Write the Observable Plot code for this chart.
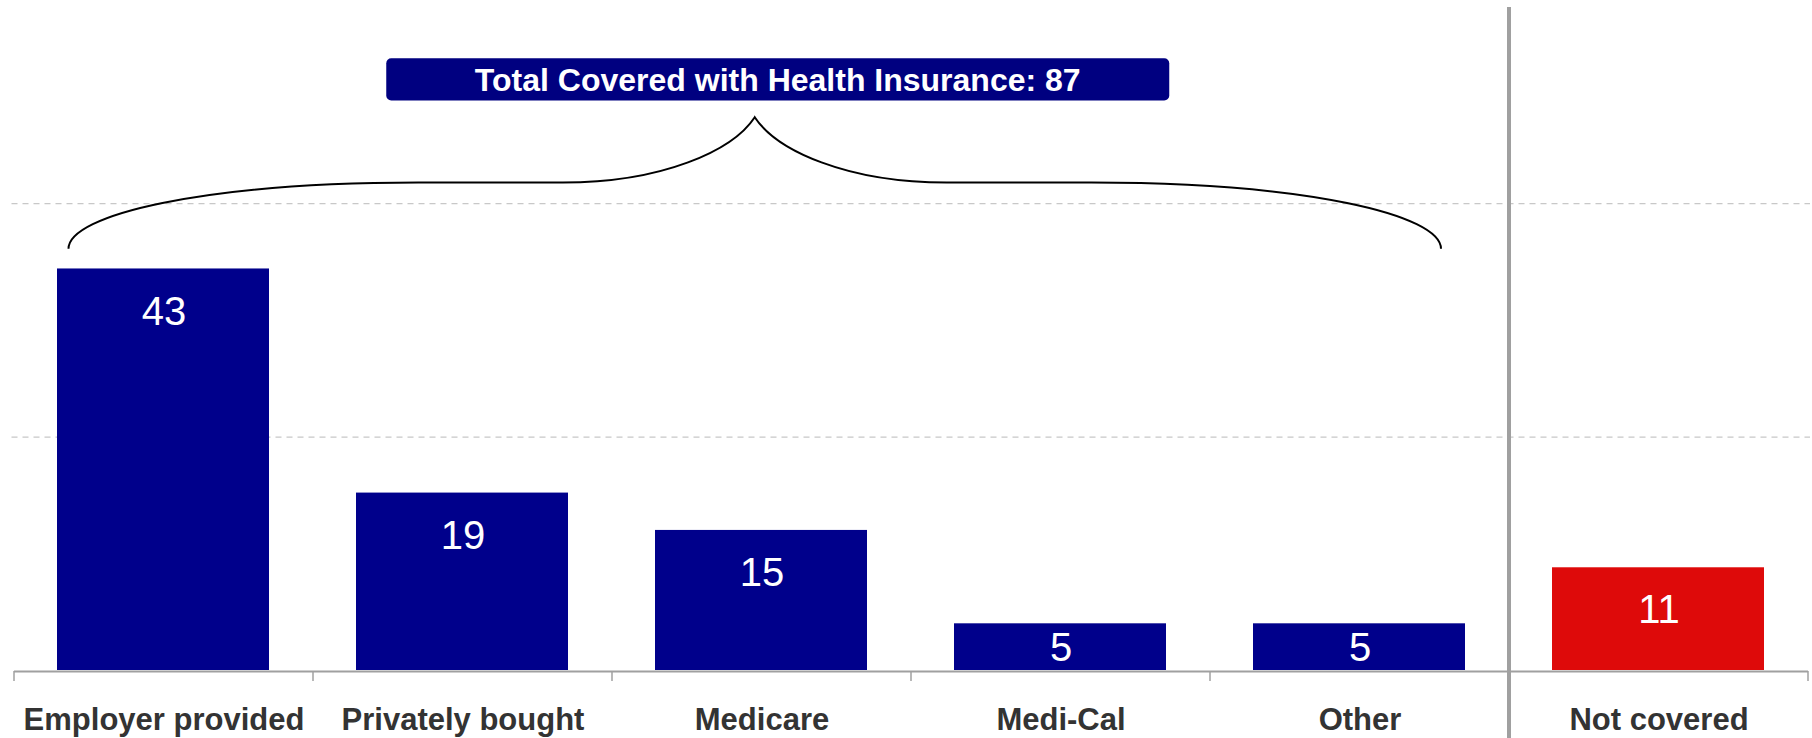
<!DOCTYPE html>
<html><head><meta charset="utf-8">
<script src="https://cdn.jsdelivr.net/npm/d3@7"></script>
<script src="https://cdn.jsdelivr.net/npm/@observablehq/plot@0.6"></script>
<style>
html,body{margin:0;padding:0;background:#fff;}
#chart{width:1812px;height:738px;overflow:hidden}
</style></head><body><div id="chart"></div>
<script>
const categories = ["Employer provided", "Privately bought", "Medicare", "Medi-Cal", "Other", "Not covered"];
const values = [43, 19, 15, 5, 5, 11];
const groups = ["covered", "covered", "covered", "covered", "covered", "uncovered"];
const gridValues = [25, 50];
const annotationText = "Total Covered with Health Insurance: 87";
const groupColors = {covered: "#00008b", uncovered: "#de0a0a"};

const data = categories.map((c, i) => ({category: c, value: values[i], group: groups[i]}));
const font = '"Liberation Sans", Arial, Helvetica, sans-serif';

function decorations(index, scales, vals, dims) {
  const x = scales.x, y = scales.y;
  const bw = x.bandwidth ? x.bandwidth() : (dims.width - dims.marginLeft - dims.marginRight) / categories.length;
  const svg = d3.create("svg:g");
  const xStart = x(categories[0]);
  const xEnd = x(categories[categories.length - 1]) + bw;
  const y0 = y(0);
  // axis line
  svg.append("line").attr("x1", xStart).attr("x2", xEnd).attr("y1", y0 + 1.5).attr("y2", y0 + 1.5)
    .attr("stroke", "#a0a0a0").attr("stroke-width", 2);
  // tick marks at band boundaries
  const bounds = categories.map(c => x(c)).concat([xEnd]);
  bounds.forEach(b => {
    svg.append("line").attr("x1", b).attr("x2", b).attr("y1", y0 + 1).attr("y2", y0 + 11)
      .attr("stroke", "#a0a0a0").attr("stroke-width", 1.5);
  });
  // divider between covered and not covered
  const xd = x(categories[5]);
  svg.append("line").attr("x1", xd).attr("x2", xd).attr("y1", dims.marginTop).attr("y2", dims.height)
    .attr("stroke", "#a0a0a0").attr("stroke-width", 4);
  // brace over the covered categories
  const xL = x(categories[0]) + 54.5;
  const xR = x(categories[4]) + bw - 68;
  const xc = (xL + xR) / 2;
  const yE = y(45.1), yF = y(52.2), yP = y(59.2);
  const p = d3.path();
  p.moveTo(xL, yE);
  p.bezierCurveTo(xL, yE - 34, xL + 134, yF, xL + 350, yF);
  p.lineTo(xc - 192, yF);
  p.bezierCurveTo(xc - 92, yF, xc - 22, yF - 32, xc, yP);
  p.bezierCurveTo(xc + 22, yF - 32, xc + 92, yF, xc + 192, yF);
  p.lineTo(xR - 350, yF);
  p.bezierCurveTo(xR - 134, yF, xR, yE - 34, xR, yE);
  svg.append("path").attr("d", p.toString()).attr("fill", "none").attr("stroke", "#000").attr("stroke-width", 2);
  // annotation box
  const bxc = xc + 23, bwid = 783;
  const bTop = y(65.5), bBot = y(61.0);
  svg.append("rect").attr("x", bxc - bwid / 2).attr("y", bTop).attr("width", bwid).attr("height", bBot - bTop)
    .attr("rx", 5).attr("ry", 5).attr("fill", "#000080");
  svg.append("text").attr("x", bxc).attr("y", (bTop + bBot) / 2 + 11.5)
    .attr("text-anchor", "middle").attr("fill", "#fff").attr("font-size", 32).attr("font-weight", "bold")
    .attr("font-family", font).text(annotationText);
  return svg.node();
}

const chart = Plot.plot({
  width: 1812,
  height: 738,
  marginTop: 7,
  marginBottom: 68,
  marginLeft: 11.5,
  marginRight: 2,
  x: {domain: categories, padding: 0, axis: null},
  y: {domain: [0, 71], axis: null},
  color: {type: "identity"},
  style: {fontFamily: font, background: "white", overflow: "visible"},
  marks: [
    Plot.ruleY(gridValues, {stroke: "#c8c8c8", strokeDasharray: "6,5", strokeWidth: 1.3}),
    Plot.barY(data, {x: "category", y: "value", fill: d => groupColors[d.group], insetLeft: 43, insetRight: 44}),
    Plot.text(data, {x: "category", y: d => Math.max(d.value - 4.42, d.value / 2), text: d => String(d.value),
      fill: "white", fontSize: 40, dy: 1.5}),
    Plot.text(data, {x: "category", y: 0, text: "category", dy: 59, lineAnchor: "bottom",
      fontSize: 31, fontWeight: "bold", fill: "#333333"}),
    decorations
  ]
});
document.getElementById("chart").appendChild(chart);
</script>
</body></html>
